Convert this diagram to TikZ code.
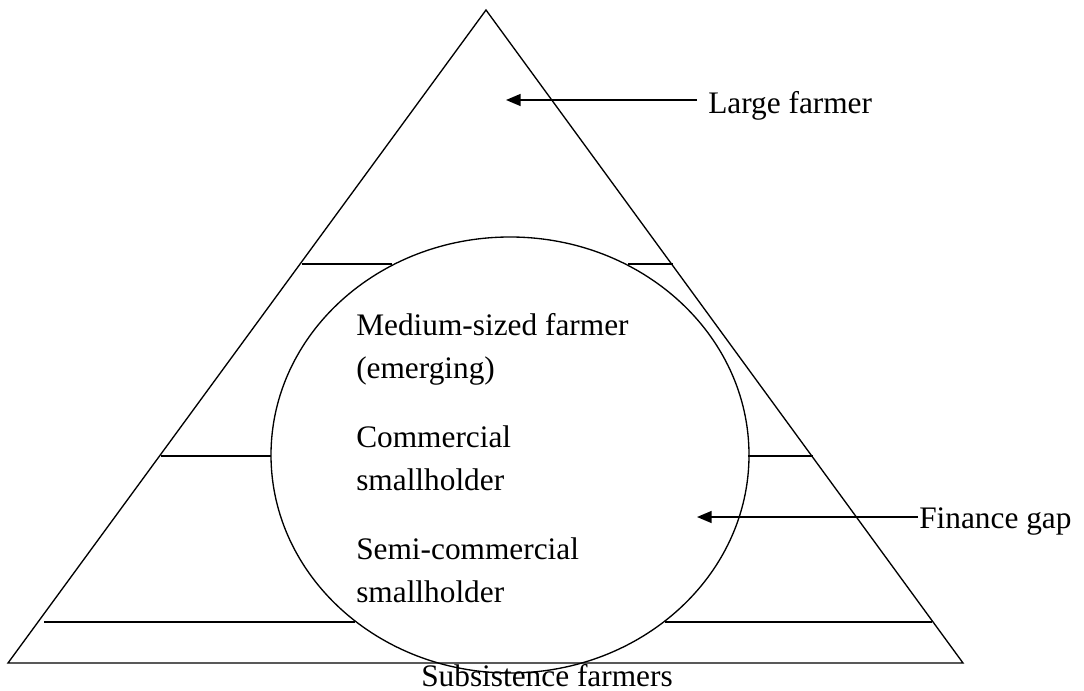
\documentclass[tikz,border=0pt]{standalone}
\usepackage{fontspec}
\setmainfont{Liberation Serif}
\usetikzlibrary{shapes.geometric}
\usetikzlibrary{arrows.meta}

\begin{document}
\begin{tikzpicture}[x=0.75pt,y=-0.75pt]

\tikzstyle{outline}=[line width=1pt]
\tikzstyle{tiertext}=[font=\fontsize{23.5}{31.9}\selectfont, inner sep=0pt, anchor=base west]
\tikzstyle{sidetext}=[font=\fontsize{23.5}{31.9}\selectfont, inner ysep=0pt, anchor=base west]
\tikzstyle{connect}=[-{Triangle[length=11pt,width=9pt]}, line width=1.1pt]

\useasboundingbox (0,0) rectangle (1084,691);

% pyramid
\coordinate (apex) at (486,10);
\coordinate (bl) at (8,663);
\coordinate (br) at (963,663);
\draw[outline] (apex) -- (bl) -- (br) -- cycle;

\node[ellipse, draw, outline, minimum width=358.5pt, minimum height=327pt, inner sep=0pt] (gap) at (510,455) {};

% tiers
\draw[outline] (302,264) -- (392,264);
\draw[outline] (628,264) -- (673,264);
\draw[outline] (161,456) -- (271,456);
\draw[outline] (748,456) -- (813,456);
\draw[outline] (44,622) -- (355,622);
\draw[outline] (665,622) -- (932,622);

\node[tiertext, align=left] (medium) at (356,378) {Medium-sized farmer\\(emerging)};
\node[tiertext, align=left] (commercial) at (356,490) {Commercial\\smallholder};
\node[tiertext, align=left] (semi) at (356,602) {Semi-commercial\\smallholder};
\node[tiertext, anchor=base] (subsistence) at (547,686) {Subsistence farmers};

\node[sidetext, inner xsep=8.25pt] (large) at (697,114) {Large farmer};
\node[sidetext, inner xsep=0.75pt] (finance) at (918,528) {Finance gap};

\coordinate (largetip) at (506,100);
\coordinate (financetip) at (697,517);

\path (large.west |- largetip) [connect] edge (largetip);
\path (finance.west |- financetip) [connect] edge (financetip);

\end{tikzpicture}
\end{document}
